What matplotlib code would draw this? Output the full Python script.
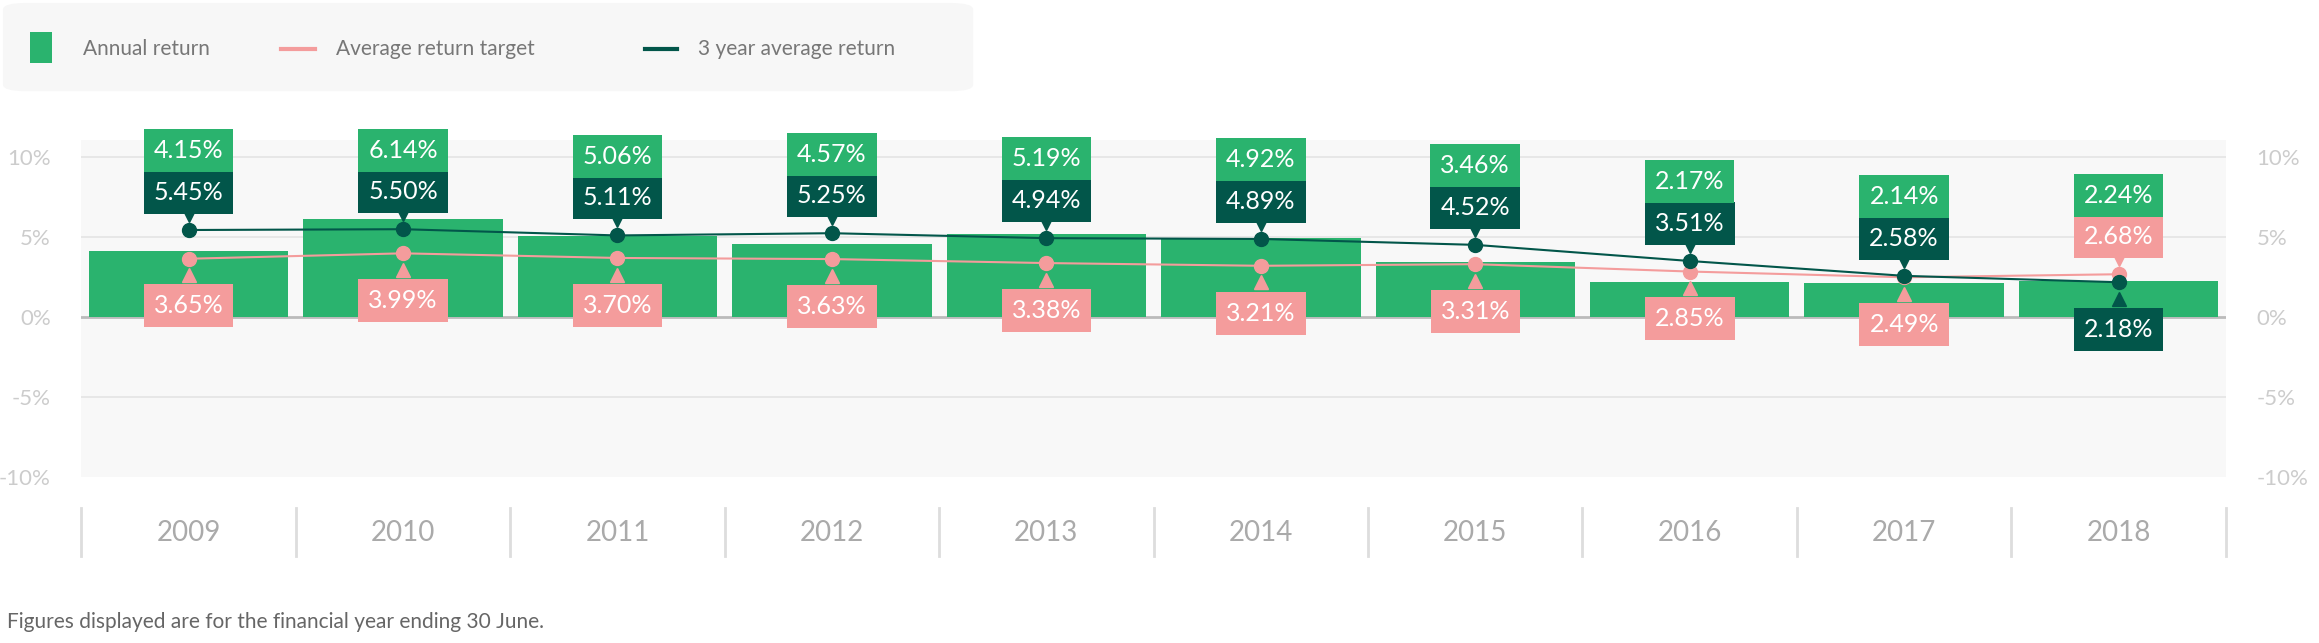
import matplotlib
matplotlib.use("Agg")
import matplotlib.pyplot as plt
from matplotlib.patches import FancyBboxPatch, Rectangle
from matplotlib.transforms import offset_copy

years = ["2009","2010","2011","2012","2013","2014","2015","2016","2017","2018"]
annual = [4.15,6.14,5.06,4.57,5.19,4.92,3.46,2.17,2.14,2.24]
target = [3.65,3.99,3.70,3.63,3.38,3.21,3.31,2.85,2.49,2.68]
avg3 = [5.45,5.50,5.11,5.25,4.94,4.89,4.52,3.51,2.58,2.18]
yticks = [-10,-5,0,5,10]

GREEN = "#2ab36e"; DARK = "#02564a"; PINK = "#f49c9c"
plt.rcParams["font.family"] = "Lato"
W, H = 1568, 437
fig = plt.figure(figsize=(23.19, 6.43), dpi=100)
x0, x1 = 55/W, 1505/W
ax = fig.add_axes([x0, 1-324/H, x1-x0, (324-95)/H])
ax.set_facecolor("#f8f8f8")
n = len(years)
xs = list(range(n))
ax.set_xlim(-0.5, n-0.5)
ax.set_ylim(-10, 11.1)
for s in ax.spines.values():
    s.set_visible(False)
ax.set_xticks([])
ax.set_yticks(yticks)
ax.set_yticklabels([f"{t}%" for t in yticks], color="#cccccc", fontsize=16)
ax.tick_params(axis="y", length=0, pad=22, labelright=True)
for t in yticks[1:]:
    ax.axhline(t, color="#bbbbbb" if t == 0 else "#e6e6e6", lw=2 if t == 0 else 1.3, zorder=1)
ax.bar(xs, annual, width=0.93, color=GREEN, zorder=2)
ax.plot(xs, target, color=PINK, lw=1.5, marker="o", ms=10, zorder=3)
ax.plot(xs, avg3, color=DARK, lw=1.5, marker="o", ms=10, zorder=4)

def label(x, y, txt, col, dy, tri=None):
    ax.annotate(txt, (x, y), xytext=(0, dy), textcoords="offset points",
                ha="center", va="center", fontsize=18, color="white",
                bbox=dict(boxstyle="square,pad=0.4", fc=col, ec="none"),
                annotation_clip=False, zorder=6)
    if tri is not None:
        tr = offset_copy(ax.transData, fig=fig, y=tri[0], units="points")
        ax.plot([x], [y], marker=tri[1], color=col, ms=10, transform=tr, clip_on=False, zorder=6)

for i in xs:
    if avg3[i] >= target[i]:
        up, upc, lo, loc = avg3[i], DARK, target[i], PINK
    else:
        up, upc, lo, loc = target[i], PINK, avg3[i], DARK
    label(i, up, f"{up:.2f}%", upc, 27, (11, "v"))
    label(i, up, f"{annual[i]:.2f}%", GREEN, 57)
    label(i, lo, f"{lo:.2f}%", loc, -34, (-12, "^"))

# year axis
for k in range(n+1):
    xf = (55 + k*145)/W
    fig.add_artist(plt.Line2D([xf, xf], [1-345/H, 1-378/H], color="#dddddd", lw=2))
for i, yv in enumerate(years):
    fig.text((55 + (i+0.5)*145)/W, 1-362/H, yv, ha="center", va="center", fontsize=20, color="#aaaaaa")

# legend
fig.add_artist(FancyBboxPatch((2/W, 1-62/H), 656/W, 60/H, boxstyle="round,pad=0,rounding_size=0.01",
                              transform=fig.transFigure, fc="#f7f7f7", ec="none"))
fig.add_artist(Rectangle((20/W, 1-43/H), 15/W, 21/H, transform=fig.transFigure, fc=GREEN, ec="none"))
fig.add_artist(plt.Line2D([190/W, 213/W], [1-33/H]*2, color=PINK, lw=3))
fig.add_artist(plt.Line2D([436/W, 458/W], [1-33/H]*2, color=DARK, lw=3))
for xx, t in [(56, "Annual return"), (227, "Average return target"), (472, "3 year average return")]:
    fig.text(xx/W, 1-33/H, t, ha="left", va="center", fontsize=15, color="#777777")

fig.text(5/W, 1-423/H, "Figures displayed are for the financial year ending 30 June.",
         ha="left", va="center", fontsize=15, color="#666666")
fig.savefig("out.png", dpi=100)
